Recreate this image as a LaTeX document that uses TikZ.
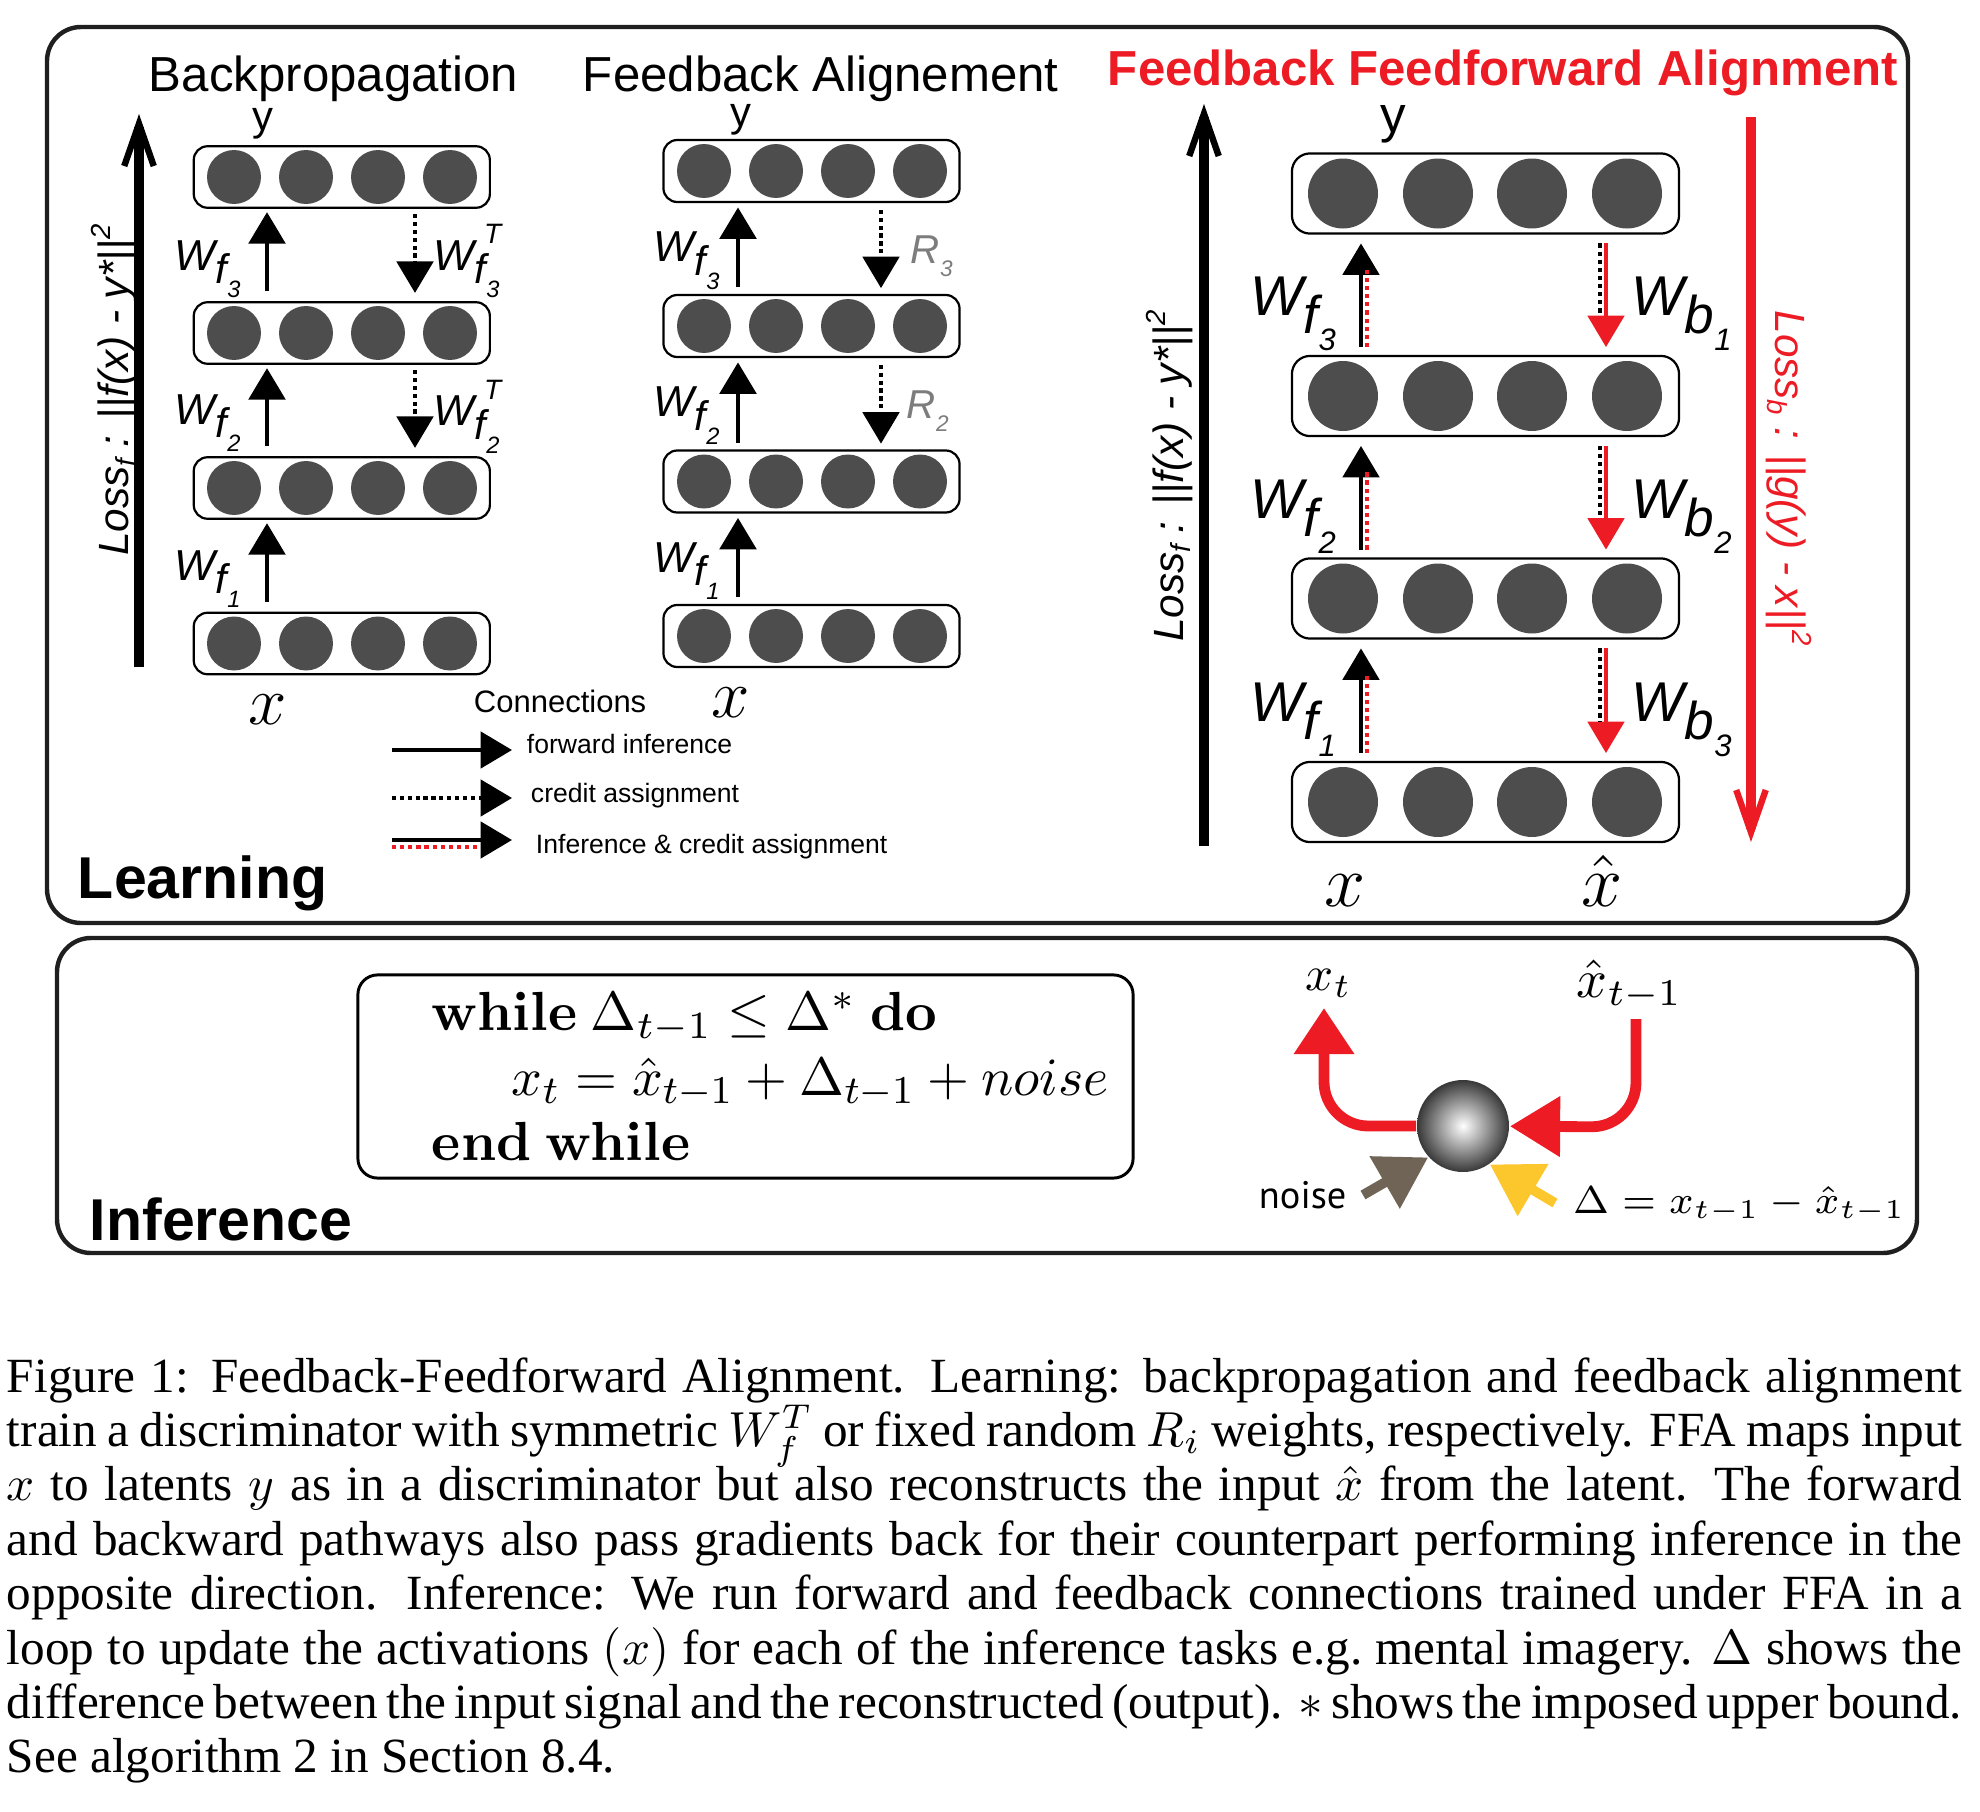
\RequirePackage{fix-cm}
\documentclass[tikz,border=0pt]{standalone}
\usepackage[no-math]{fontspec}
\setmainfont{Liberation Serif}
\setsansfont{Liberation Sans}
\newfontfamily\noisefont{PT Sans}
\usetikzlibrary{arrows.meta}
\definecolor{ffred}{RGB}{237,28,36}
\definecolor{circ}{RGB}{77,77,77}
\definecolor{rgray}{RGB}{125,125,125}
\definecolor{noisec}{RGB}{111,100,85}
\definecolor{yelc}{RGB}{252,198,45}
\newcommand{\fs}[1]{\fontsize{#1}{#1}\selectfont}
\newcommand{\wsm}[2]{{\sffamily\itshape\fs{8.8}W\raisebox{-2.8pt}{\fs{8.4}#1}\raisebox{-5.5pt}{\fs{4.8}#2}}}
\newcommand{\wsmT}[2]{{\sffamily\itshape\fs{8.8}W\rlap{\kern1.9pt\raisebox{5.4pt}{\fs{5.7}T}}\raisebox{-2.8pt}{\fs{8.4}#1}\raisebox{-5.5pt}{\fs{4.8}#2}}}
\newcommand{\wbg}[2]{{\sffamily\itshape\fs{11.4}W\raisebox{-3.7pt}{\fs{10.8}#1}\raisebox{-7.2pt}{\fs{6.3}#2}}}
\newcommand{\rlab}[1]{{\sffamily\itshape\fs{8.2}R\raisebox{-2.8pt}{\fs{4.6}#1}}}
\newcommand{\losstxt}[2]{{\sffamily\itshape\fs{8.6}Loss\raisebox{-1.6pt}{\fs{5.6}#1} : ||#2||\raisebox{3.6pt}{\fs{5.6}2}}}
\newcommand{\capl}[1]{\makebox[397.5pt][s]{#1}}
\begin{document}
\begin{tikzpicture}[x=0.2033pt,y=-0.2033pt,
  panel/.style={draw=black!88, line width=0.9pt, rounded corners=6.9pt},
  lay/.style={draw=black, line width=0.45pt, rounded corners=2.8pt, inner sep=0pt, outer sep=0pt, minimum width=60.2pt, minimum height=12.5pt},
  layb/.style={draw=black, line width=0.45pt, rounded corners=3.7pt, inner sep=0pt, outer sep=0pt, minimum width=78.7pt, minimum height=16.3pt},
  fwd/.style={line width=0.9pt, -{Triangle[width=7.4pt,length=6.4pt]}},
  credit/.style={line width=0.8pt, dash pattern=on 0.85pt off 0.75pt, -{Triangle[width=7.4pt,length=6.4pt]}},
  reddot/.style={draw=ffred, line width=0.8pt, dash pattern=on 0.85pt off 0.8pt},
  blkdot/.style={draw=black, line width=0.8pt, dash pattern=on 0.85pt off 0.8pt},
  redarr/.style={color=ffred, line width=0.8pt, -{Triangle[width=7.4pt,length=6.4pt]}},
  lossar/.style={line width=1.9pt, -{Straight Barb[length=8.6pt,width=6pt,line width=1.3pt]}},
  thickred/.style={draw=ffred, line width=2.2pt, rounded corners=9pt},
  lab/.style={anchor=base west, inner sep=0pt},
]
\useasboundingbox (0,0) rectangle (1980,1812);
% panels
\draw[panel] (47,27) rectangle (1908,923);
\draw[panel] (57,938) rectangle (1917,1253);
% titles
\node[lab, font=\sffamily\fs{10}] (tbp) at (148,91) {Backpropagation};
\node[lab, font=\sffamily\fs{10}] (tfa) at (582,91) {Feedback Alignement};
\node[lab, font=\sffamily\bfseries\fs{10}, text=ffred] (tffa) at (1107,85) {Feedback Feedforward Alignment};
% backprop layers
\node[lay] (bp1) at (341.8,643.5) {};
\node[lay] (bp2) at (341.8,488) {};
\node[lay] (bp3) at (341.8,333) {};
\node[lay] (bp4) at (341.8,177) {};
\foreach \cx in {234,306,378,450}{\foreach \cy in {177,333,488,643.5}{\fill[circ] (\cx,\cy) circle (27);}}
% FA layers
\node[lay, minimum height=12.6pt] (fa1) at (811.5,636) {};
\node[lay, minimum height=12.6pt] (fa2) at (811.5,481.5) {};
\node[lay, minimum height=12.6pt] (fa3) at (811.5,326) {};
\node[lay, minimum height=12.6pt] (fa4) at (811.5,171) {};
\foreach \cx in {704,776,848,920}{\foreach \cy in {171,326,481.5,636}{\fill[circ] (\cx,\cy) circle (27);}}
% FFA layers
\node[layb] (ff1) at (1485.5,802) {};
\node[layb] (ff2) at (1485.5,598.5) {};
\node[layb] (ff3) at (1485.5,396) {};
\node[layb] (ff4) at (1485.5,193.5) {};
\foreach \cx in {1343,1438,1532,1627}{\foreach \cy in {193.5,396,598.5,802}{\fill[circ] (\cx,\cy) circle (35);}}
% y / x labels
\node[font=\sffamily\fs{8.5}] (ybp) at (263,124) {y};
\node[font=\sffamily\fs{8.5}] (yfa) at (741,120) {y};
\node[font=\sffamily\fs{10.4}] (yff) at (1393,124) {y};
\node[font=\fs{14}] (xbp) at (268,710) {$x$};
\node[font=\fs{14}] (xfa) at (731,703) {$x$};
\node[anchor=base, inner sep=0pt, font=\fs{15}] (xff) at (1345,906) {$x$};
\node[anchor=base, inner sep=0pt, font=\fs{15}] (xhff) at (1602,906) {$\hat{x}$};
% backprop arrows
\coordinate (bpu) at (267,0); \coordinate (bpd) at (415,0);
\draw[fwd, shorten <=2.2pt, shorten >=0.9pt] (bp1.north -| bpu) -- (bp2.south -| bpu);
\draw[fwd, shorten <=2.2pt, shorten >=0.9pt] (bp2.north -| bpu) -- (bp3.south -| bpu);
\draw[fwd, shorten <=2.2pt, shorten >=0.9pt] (bp3.north -| bpu) -- (bp4.south -| bpu);
\draw[credit, shorten <=1.3pt, shorten >=1.9pt] (bp4.south -| bpd) -- (bp3.north -| bpd);
\draw[credit, shorten <=1.3pt, shorten >=1.9pt] (bp3.south -| bpd) -- (bp2.north -| bpd);
\node[lab] (wbp3) at (174,270) {\wsm{f}{3}};
\node[lab] (wbp2) at (174,424) {\wsm{f}{2}};
\node[lab] (wbp1) at (174,580) {\wsm{f}{1}};
\node[lab] (wtbp3) at (433,270) {\wsmT{f}{3}};
\node[lab] (wtbp2) at (433,426) {\wsmT{f}{2}};
% FA arrows
\coordinate (fau) at (738,0); \coordinate (fad) at (881,0);
\draw[fwd, shorten <=1.6pt, shorten >=1.1pt] (fa1.north -| fau) -- (fa2.south -| fau);
\draw[fwd, shorten <=1.6pt, shorten >=1.1pt] (fa2.north -| fau) -- (fa3.south -| fau);
\draw[fwd, shorten <=1.6pt, shorten >=1.1pt] (fa3.north -| fau) -- (fa4.south -| fau);
\draw[credit, shorten <=1.6pt, shorten >=1.4pt] (fa4.south -| fad) -- (fa3.north -| fad);
\draw[credit, shorten <=1.6pt, shorten >=1.4pt] (fa3.south -| fad) -- (fa2.north -| fad);
\node[lab] (wfa3) at (653,262) {\wsm{f}{3}};
\node[lab] (wfa2) at (653,417) {\wsm{f}{2}};
\node[lab] (wfa1) at (653,572) {\wsm{f}{1}};
\node[lab, text=rgray] (rfa3) at (910,263) {\rlab{3}};
\node[lab, text=rgray] (rfa2) at (906,418) {\rlab{2}};
% FFA arrows
\coordinate (ffu) at (1361,0); \coordinate (ffur) at (1367,0);
\coordinate (ffd) at (1606,0); \coordinate (ffdk) at (1600,0);
\foreach \lo/\hi in {ff1/ff2,ff2/ff3,ff3/ff4}{
  \draw[fwd, line width=0.8pt, shorten <=1.8pt, shorten >=2pt] (\lo.north -| ffu) -- (\hi.south -| ffu);
  \draw[reddot, shorten <=1.8pt, shorten >=7.3pt] (\lo.north -| ffur) -- (\hi.south -| ffur);
  \draw[redarr, shorten <=2pt, shorten >=1.8pt] (\hi.south -| ffd) -- (\lo.north -| ffd);
  \draw[blkdot, shorten <=2pt, shorten >=8.1pt] (\hi.south -| ffdk) -- (\lo.north -| ffdk);
}
\node[lab] (wff3) at (1250,315) {\wbg{f}{3}};
\node[lab] (wff2) at (1250,518) {\wbg{f}{2}};
\node[lab] (wff1) at (1250,721) {\wbg{f}{1}};
\node[lab] (wbb1) at (1631,315) {\wbg{b}{1}};
\node[lab] (wbb2) at (1631,518) {\wbg{b}{2}};
\node[lab] (wbb3) at (1631,721) {\wbg{b}{3}};
% loss arrows
\coordinate (lbp0) at (139,667); \coordinate (lbp1) at (139,114);
\draw[lossar] (lbp0) -- (lbp1);
\coordinate (lff0) at (1204,846); \coordinate (lff1) at (1204,104);
\draw[lossar] (lff0) -- (lff1);
\coordinate (lbb0) at (1751,117); \coordinate (lbb1) at (1751,842);
\draw[lossar, color=ffred] (lbb0) -- (lbb1);
\node[anchor=base, rotate=90, inner sep=0pt] (lfbp) at (128,390) {\losstxt{f}{f(x) - y*}};
\node[anchor=base, rotate=90, inner sep=0pt] (lfff) at (1183,476) {\losstxt{f}{f(x) - y*}};
\node[anchor=base, rotate=-90, inner sep=0pt, text=ffred] (lbff) at (1775,478) {\losstxt{b}{g(y) - x}};
% legend
\node[lab, font=\sffamily\fs{6.3}] (conn) at (473,712) {Connections};
\coordinate (lg1a) at (392,750); \coordinate (lg1b) at (512,750);
\coordinate (lg2a) at (392,798); \coordinate (lg2b) at (512,798);
\coordinate (lg3a) at (392,840); \coordinate (lg3b) at (512,840);
\coordinate (lg3c) at (392,847); \coordinate (lg3d) at (480,847);
\draw[fwd, line width=0.8pt] (lg1a) -- (lg1b);
\draw[credit] (lg2a) -- (lg2b);
\draw[fwd, line width=0.8pt] (lg3a) -- (lg3b);
\draw[reddot] (lg3c) -- (lg3d);
\node[lab, font=\sffamily\fs{5.4}] (lgt1) at (526,753) {forward inference};
\node[lab, font=\sffamily\fs{5.4}] (lgt2) at (530,802) {credit assignment};
\node[lab, font=\sffamily\fs{5.4}] (lgt3) at (535,853) {Inference \& credit assignment};
% panel names
\node[lab, font=\sffamily\bfseries\fs{12}] (learn) at (77,898) {Learning};
\node[lab, font=\sffamily\bfseries\fs{12}] (infer) at (89,1240) {Inference};
% algorithm
\node[draw, line width=0.6pt, rounded corners=4pt, minimum width=157.6pt, minimum height=41.3pt, inner sep=0pt] (alg) at (745.5,1076.5) {};
\node[lab, font=\fs{11.2}] (al1) at (431,1030) {$\mathbf{while}\ \Delta_{t-1}\le\Delta^{*}\ \mathbf{do}$};
\node[lab, font=\fs{10.95}] (al2) at (511,1095) {$x_t=\hat{x}_{t-1}+\Delta_{t-1}+noise$};
\node[lab, font=\fs{11.2}] (al3) at (431,1160) {$\mathbf{end}\ \mathbf{while}$};
% inference loop
\node[circle, minimum size=18.7pt, inner sep=0pt, inner color=white, outer color=black!78] (ball) at (1463,1126) {};
\coordinate (xtc) at (1324,1126); \coordinate (xtt) at (1324,1008);
\coordinate (xhs) at (1636,1019); \coordinate (xhc) at (1636,1127);
\draw[thickred, -{Triangle[width=11.8pt,length=9.4pt]}] (ball) -- (xtc) -- (xtt);
\draw[thickred, -{Triangle[width=11.8pt,length=10.2pt]}] (xhs) -- (xhc) -- (ball);
\coordinate (nst) at (1363,1195); \coordinate (yst) at (1555,1203);
\draw[noisec, line width=2pt, -{Triangle[width=11.8pt,length=10.2pt]}] (nst) -- (ball.222);
\draw[yelc, line width=2pt, -{Triangle[width=11.8pt,length=10.2pt]}] (yst) -- (ball.305);
\node[lab, font=\fs{10}] (lxt) at (1305,990) {$x_t$};
\node[lab, font=\fs{11}] (lxh) at (1576,997) {$\hat{x}_{t-1}$};
\node[lab, font=\noisefont\fs{7.8}] (lno) at (1258,1208) {noise};
\node[lab, font=\fs{7.9}] (ldel) at (1572,1213) {$\Delta = x_{t-1} - \hat{x}_{t-1}$};
% caption
\node[lab, font=\fs{10}] (c1) at (6,1392) {\capl{Figure 1: Feedback-Feedforward Alignment. Learning: backpropagation and feedback alignment}};
\node[lab, font=\fs{10}] (c2) at (6,1446.4) {\capl{train a discriminator with symmetric $W_f^T$ or fixed random $R_i$ weights, respectively. FFA maps input}};
\node[lab, font=\fs{10}] (c3) at (6,1500.8) {\capl{$x$ to latents $y$ as in a discriminator but also reconstructs the input $\hat{x}$ from the latent. The forward}};
\node[lab, font=\fs{10}] (c4) at (6,1555.2) {\capl{and backward pathways also pass gradients back for their counterpart performing inference in the}};
\node[lab, font=\fs{10}] (c5) at (6,1609.6) {\capl{opposite direction. Inference: We run forward and feedback connections trained under FFA in a}};
\node[lab, font=\fs{10}] (c6) at (6,1664) {\capl{loop to update the activations $(x)$ for each of the inference tasks e.g.\ mental imagery. $\Delta$ shows the}};
\node[lab, font=\fs{10}] (c7) at (6,1718.4) {\capl{difference between the input signal and the reconstructed (output). $*$ shows the imposed upper bound.}};
\node[lab, font=\fs{10}] (c8) at (6,1772.8) {See algorithm 2 in Section 8.4.};
\end{tikzpicture}
\end{document}
